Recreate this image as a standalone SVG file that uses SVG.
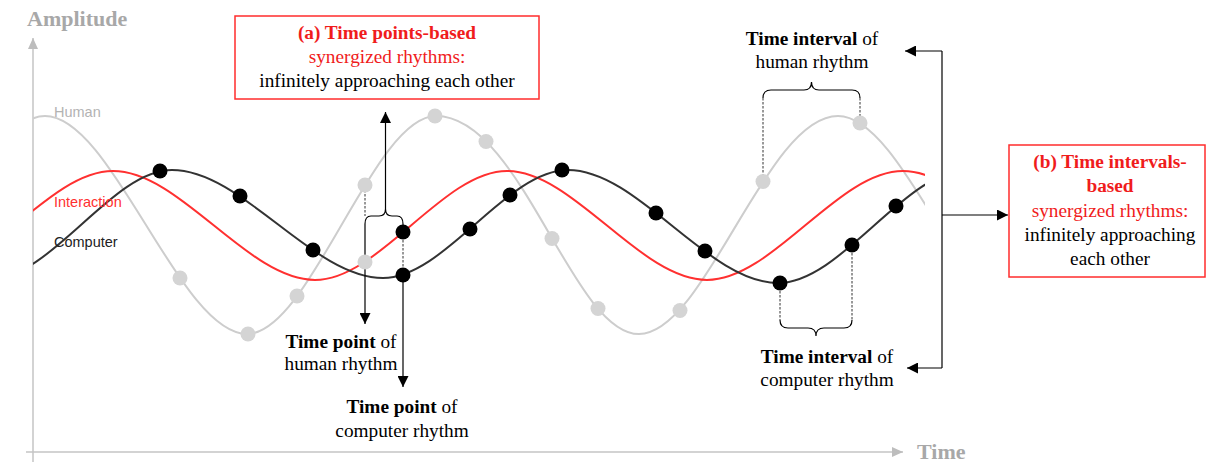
<svg xmlns="http://www.w3.org/2000/svg" width="1208" height="462" viewBox="0 0 1208 462">
<style>
.serif{font-family:"Liberation Serif","Times New Roman",serif;font-size:19.3px;text-anchor:middle}
.sans{font-family:"Liberation Sans",Arial,sans-serif;font-size:14.5px}
.red{fill:#f01c1c}
.ink{fill:#000}
.axis-label{font-family:"Liberation Serif","Times New Roman",serif;font-size:22px;font-weight:bold;fill:#a8a8a8}
.axis{stroke:#c4c4c4;stroke-width:1.5;fill:none}
.curve{fill:none;stroke-width:2}
.human{stroke:#cdcdcd}
.inter{stroke:#ff3030}
.comp{stroke:#333}
.dot-h{fill:#d4d4d4}
.dot-c{fill:#000}
.box{fill:#fff;stroke:#ff2d2d;stroke-width:1.5}
.conn{fill:none;stroke:#000;stroke-width:1.2}
.dash{fill:none;stroke:#333;stroke-width:1;stroke-dasharray:2.5 1.5}
</style>
<defs>
  <marker id="ah" viewBox="0 0 11 11" refX="11" refY="5.5" markerWidth="11" markerHeight="11" markerUnits="userSpaceOnUse" orient="auto">
    <path d="M0,0 L11,5.5 L0,11 z" fill="#000"/>
  </marker>
  <marker id="ah-gray" viewBox="0 0 11 10" refX="11" refY="5" markerWidth="11" markerHeight="10" markerUnits="userSpaceOnUse" orient="auto">
    <path d="M0,0 L11,5 L0,10 z" fill="#bdbdbd"/>
  </marker>
  <clipPath id="plot">
    <rect x="33" y="0" width="892" height="462"/>
  </clipPath>
</defs>

<!-- axes -->
<g id="axes">
  <path class="axis" d="M33,462 L33,38" marker-end="url(#ah-gray)"/>
  <path class="axis" d="M26,452 L903,452" marker-end="url(#ah-gray)"/>
  <text class="axis-label" x="27" y="26">Amplitude</text>
  <text class="axis-label" x="917" y="459">Time</text>
</g>

<!-- rhythm curves -->
<g id="curves" clip-path="url(#plot)">
  <path id="human-curve" class="curve human" d="M-155,334 C-88.3,334 -21.7,116 45,116 C112.3,116 179.7,334 247,334 C310,334 373,116 436,116 C521,116 572,334 639,334 C705.3,334 766,116 838,116 C904.7,116 971.3,334 1038,334"/>
  <path id="interaction-curve" class="curve inter" d="M-84,280 C-18.3,280 47.3,171 113,171 C180.3,171 247.7,280 315,280 C379,280 443,171 507,171 C573.7,171 640.3,280 707,280 C772.3,280 837.7,171 903,171 C968.7,171 1034.3,280 1100,280"/>
  <path id="computer-curve" class="curve comp" d="M-8,278 C52,278 112,170 172,170 C242.3,170 312.7,278 383,278 C444.7,278 506.3,170 568,170 C638,170 708,283 778,283 C841.3,283 904.7,170 968,170"/>
</g>

<!-- series labels -->
<g id="series-labels" class="sans">
  <text x="54" y="117" fill="#b3b3b3">Human</text>
  <text x="54" y="207" fill="#ff3030">Interaction</text>
  <text x="54" y="247" fill="#222">Computer</text>
</g>

<!-- connectors: projections, braces and arrows -->
<g id="connectors">
  <!-- time points -->
  <path class="dash" d="M365,186 L365,216"/>
  <path class="dash" d="M403,232 L403,275"/>
  <path class="conn" d="M365,262 L365,324" marker-end="url(#ah)"/>
  <path class="conn" d="M403,275 L403,387" marker-end="url(#ah)"/>
  <path class="conn" d="M365,262 L365,224 Q365,216 371,216 L379,216 Q385.5,216 385.5,209 Q385.5,216 392,216 L397,216 Q403,216 403,224 L403,232"/>
  <path class="conn" d="M385.5,209 L385.5,112" marker-end="url(#ah)"/>
  <!-- human interval -->
  <path class="dash" d="M763,98 L763,182"/>
  <path class="dash" d="M860,98 L860,123"/>
  <path class="conn" stroke-width="1" d="M763,98 Q763,90 771,90 L804,90 Q811.5,90 811.5,82 Q811.5,90 819,90 L852,90 Q860,90 860,98"/>
  <!-- computer interval -->
  <path class="dash" d="M780,283 L780,320"/>
  <path class="dash" d="M852,245 L852,320"/>
  <path class="conn" stroke-width="1" d="M780,320 Q780,328 788,328 L808,328 Q816,328 816,336 Q816,328 824,328 L844,328 Q852,328 852,320"/>
  <!-- bracket to (b) -->
  <path class="conn" d="M942,51 L942,368"/>
  <path class="conn" d="M942,51 L905,51" marker-end="url(#ah)"/>
  <path class="conn" d="M942,368 L907,368" marker-end="url(#ah)"/>
  <path class="conn" d="M942,215 L1008,215" marker-end="url(#ah)"/>
</g>

<!-- sample points -->
<g id="human-points" class="dot-h">
  <circle cx="180" cy="278" r="7.5"/>
  <circle cx="248" cy="334" r="7.5"/>
  <circle cx="297" cy="296" r="7.5"/>
  <circle cx="365" cy="185" r="7.5"/>
  <circle cx="365" cy="262" r="7.5"/>
  <circle cx="435" cy="116" r="7.5"/>
  <circle cx="486" cy="141.5" r="7.5"/>
  <circle cx="552" cy="238.5" r="7.5"/>
  <circle cx="598" cy="308.5" r="7.5"/>
  <circle cx="680" cy="310.5" r="7.5"/>
  <circle cx="763" cy="181.5" r="7.5"/>
  <circle cx="860" cy="123" r="7.5"/>
</g>
<g id="computer-points" class="dot-c">
  <circle cx="160" cy="171" r="7.5"/>
  <circle cx="240" cy="196" r="7.5"/>
  <circle cx="313" cy="250" r="7.5"/>
  <circle cx="403" cy="275" r="7.5"/>
  <circle cx="403" cy="232" r="7.5"/>
  <circle cx="470" cy="229" r="7.5"/>
  <circle cx="510" cy="195" r="7.5"/>
  <circle cx="562" cy="170" r="7.5"/>
  <circle cx="656" cy="213" r="7.5"/>
  <circle cx="705" cy="251" r="7.5"/>
  <circle cx="780" cy="283" r="7.5"/>
  <circle cx="852" cy="245" r="7.5"/>
  <circle cx="896" cy="206" r="7.5"/>
</g>

<!-- (a) box -->
<g id="box-a">
  <rect class="box" x="235" y="16" width="304" height="83"/>
  <text class="serif red" x="387" y="39" font-weight="bold">(a) Time points-based</text>
  <text class="serif red" x="387" y="63">synergized rhythms:</text>
  <text class="serif ink" x="387" y="87">infinitely approaching each other</text>
</g>

<!-- (b) box -->
<g id="box-b">
  <rect class="box" x="1009" y="145" width="196" height="132"/>
  <text class="serif red" x="1110" y="168" font-weight="bold">(b) Time intervals-</text>
  <text class="serif red" x="1110" y="192" font-weight="bold">based</text>
  <text class="serif red" x="1110" y="217">synergized rhythms:</text>
  <text class="serif ink" x="1110" y="241">infinitely approaching</text>
  <text class="serif ink" x="1110" y="265">each other</text>
</g>

<!-- annotation labels -->
<g id="label-point-human">
  <text class="serif ink" x="341" y="348"><tspan font-weight="bold">Time point</tspan> of</text>
  <text class="serif ink" x="341" y="370">human rhythm</text>
</g>
<g id="label-point-computer">
  <text class="serif ink" x="402" y="413"><tspan font-weight="bold">Time point</tspan> of</text>
  <text class="serif ink" x="402" y="437">computer rhythm</text>
</g>
<g id="label-interval-human">
  <text class="serif ink" x="812" y="45"><tspan font-weight="bold">Time interval</tspan> of</text>
  <text class="serif ink" x="812" y="68">human rhythm</text>
</g>
<g id="label-interval-computer">
  <text class="serif ink" x="827" y="363"><tspan font-weight="bold">Time interval</tspan> of</text>
  <text class="serif ink" x="827" y="386">computer rhythm</text>
</g>
</svg>
